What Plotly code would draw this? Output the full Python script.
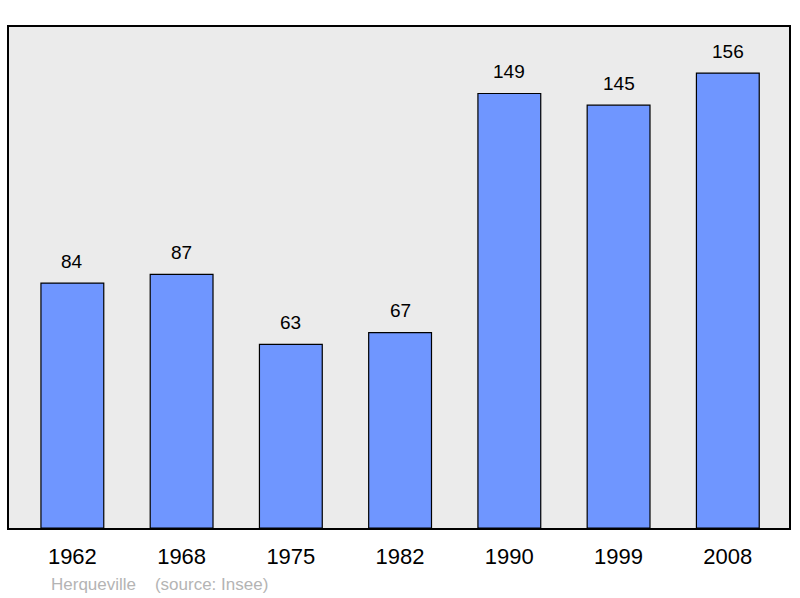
import plotly.graph_objects as go

years = ["1962", "1968", "1975", "1982", "1990", "1999", "2008"]
population = [84, 87, 63, 67, 149, 145, 156]
footnote_place = "Herqueville"
footnote_source = "(source: Insee)"

FONT = "Liberation Sans, Arial, sans-serif"

fig = go.Figure()
fig.add_trace(go.Bar(
    x=years, y=population, width=0.575,
    marker=dict(color="#6f96ff", line=dict(color="black", width=1.2)),
    hoverinfo="skip",
))
for i, v in enumerate(population):
    fig.add_annotation(x=i, y=v, xref="x", yref="y", text=str(v), showarrow=False,
                       yshift=22, font=dict(family=FONT, size=19, color="black"))

fig.add_annotation(xref="paper", yref="paper", x=(49-9)/782, y=-(584-528)/501,
                   xanchor="left", yanchor="middle", showarrow=False,
                   text=footnote_place + "    " + footnote_source,
                   font=dict(family=FONT, size=17, color="#b4b4b4"))

fig.update_layout(
    width=800, height=598,
    margin=dict(l=9, r=9, t=27, b=70),
    paper_bgcolor="white", plot_bgcolor="#ebebeb",
    showlegend=False,
    xaxis=dict(type="category", range=[-0.58, 6.56], showline=True, mirror=True,
               linecolor="black", linewidth=2, showgrid=False, ticks="",
               ticklabelstandoff=8,
               tickfont=dict(family=FONT, size=22, color="black")),
    yaxis=dict(range=[0, 171.8], showline=True, mirror=True, linecolor="black",
               linewidth=2, showgrid=False, showticklabels=False, ticks="",
               zeroline=False),
)
fig.write_html("out.html", config={"displayModeBar": False},
               post_script="document.body.style.margin='0';document.body.style.padding='0';")
